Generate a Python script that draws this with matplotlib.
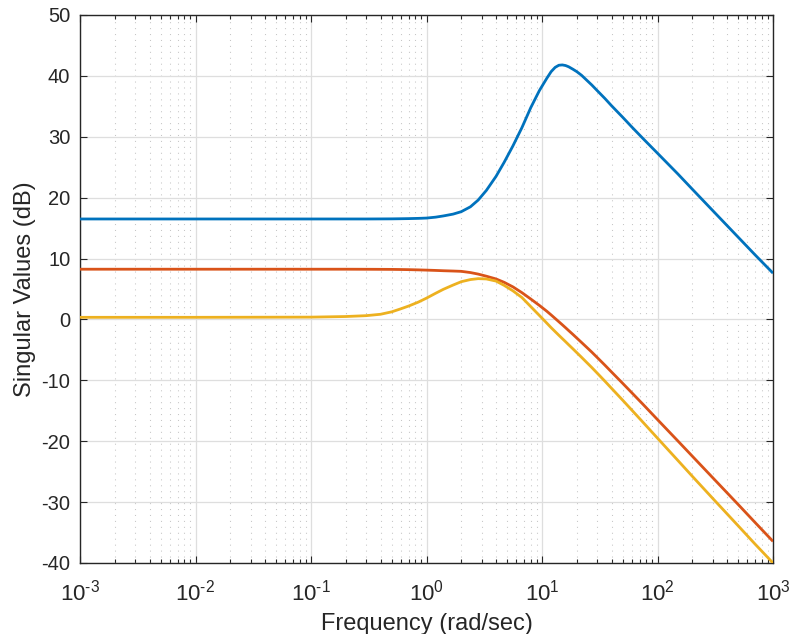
import matplotlib
matplotlib.use("Agg")
import matplotlib.pyplot as plt
from matplotlib.ticker import LogLocator, NullFormatter

plt.rcParams['font.family'] = ['Liberation Sans', 'DejaVu Sans']
plt.rcParams['mathtext.fontset'] = 'custom'
plt.rcParams['mathtext.rm'] = 'Liberation Sans'
plt.rcParams['mathtext.it'] = 'Liberation Sans'
plt.rcParams['axes.unicode_minus'] = False

# frequency (rad/sec)
freq = [0.001, 0.01, 0.1, 0.2, 0.3, 0.4, 0.5, 0.6, 0.7, 0.85, 1.0, 1.2, 1.4, 1.7,
        2.0, 2.4, 2.8, 3.3, 4.0, 4.7, 5.6, 6.7, 8.0, 9.5, 11, 12, 13, 14, 15, 16,
        17, 18.5, 20, 22, 25, 27, 30, 35, 40, 50, 60, 75, 100, 150, 200, 300,
        500, 700, 1000]

# singular values (dB)
sv1 = [16.5, 16.5, 16.5, 16.5, 16.5, 16.51, 16.52, 16.54, 16.56, 16.6, 16.65, 16.8, 17.0, 17.3,
       17.7, 18.5, 19.6, 21.2, 23.5, 25.8, 28.5, 31.5, 34.8, 37.6, 39.6, 40.7, 41.4, 41.75, 41.8, 41.7,
       41.5, 41.1, 40.7, 40.1, 39.1, 38.5, 37.6, 36.3, 35.1, 33.2, 31.6, 29.7, 27.3, 23.9, 21.4, 17.9,
       13.5, 10.6, 7.6]

sv2 = [8.25, 8.25, 8.25, 8.25, 8.24, 8.23, 8.22, 8.2, 8.18, 8.14, 8.1, 8.05, 8.0, 7.95,
       7.9, 7.7, 7.45, 7.1, 6.65, 6.1, 5.35, 4.4, 3.35, 2.3, 1.35, 0.74, 0.16, -0.38, -0.88, -1.36,
       -1.82, -2.45, -3.05, -3.78, -4.77, -5.37, -6.23, -7.5, -8.63, -10.5, -12.05, -13.95, -16.45, -19.95, -22.45, -25.97,
       -30.4, -33.35, -36.45]

sv3 = [0.35, 0.35, 0.38, 0.48, 0.62, 0.85, 1.25, 1.75, 2.2, 2.85, 3.5, 4.3, 4.95, 5.65,
       6.2, 6.55, 6.7, 6.65, 6.3, 5.6, 4.7, 3.6, 2.1, 0.65, -0.6, -1.35, -2.0, -2.6, -3.15, -3.66,
       -4.15, -4.82, -5.45, -6.22, -7.27, -7.9, -8.8, -10.13, -11.31, -13.27, -14.9, -16.9, -19.5, -23.15, -25.75, -29.37,
       -33.9, -36.9, -40.0]

colors = ['#0072BD', '#D95319', '#EDB120']

yticks = [-40, -30, -20, -10, 0, 10, 20, 30, 40, 50]
xticks = [1e-3, 1e-2, 1e-1, 1e0, 1e1, 1e2, 1e3]
xexps = ['-3', '-2', '-1', '0', '1', '2', '3']

fig = plt.figure(figsize=(7.93, 6.34), dpi=100)
ax = fig.add_axes([80/793, 1-563/634, (773-80)/793, (563-15)/634])

for vals, c in zip([sv1, sv2, sv3], colors):
    ax.plot(freq, vals, color=c, lw=2.0, solid_capstyle='butt', solid_joinstyle='round',
            zorder=3, clip_on=True)

ax.set_xscale('log')
ax.set_xlim(1e-3, 1e3)
ax.set_ylim(-40, 50)
ax.set_xticks(xticks)
ax.set_xticklabels([r'$\mathregular{10^{\text{%s}}}$' % e for e in xexps])
ax.set_yticks(yticks)
ax.set_yticklabels([str(v) for v in yticks])
ax.xaxis.set_minor_locator(LogLocator(base=10, subs=range(2, 10), numticks=100))
ax.xaxis.set_minor_formatter(NullFormatter())

ax.grid(True, which='major', color='#dedede', lw=0.9, ls='-', zorder=0)
ax.grid(True, which='minor', axis='x', color='#c6c6c6', lw=0.75, ls=(0, (1, 4.7)), zorder=0)
ax.set_axisbelow(True)

ax.tick_params(which='major', direction='in', length=5, width=0.8, top=True, right=True,
               labelsize=14.5, colors='#262626', pad=7)
ax.tick_params(which='minor', direction='in', length=3, width=0.8, top=True, right=True,
               colors='#262626')
ax.tick_params(axis='x', which='major', pad=12, labelsize=16)
for s in ax.spines.values():
    s.set_color('#262626')
    s.set_linewidth(1.0)

ax.set_xlabel('Frequency (rad/sec)', fontsize=17, color='#262626', labelpad=5)
ax.set_ylabel('Singular Values (dB)', fontsize=17, color='#262626', labelpad=4)

fig.savefig('out.png', dpi=100)
